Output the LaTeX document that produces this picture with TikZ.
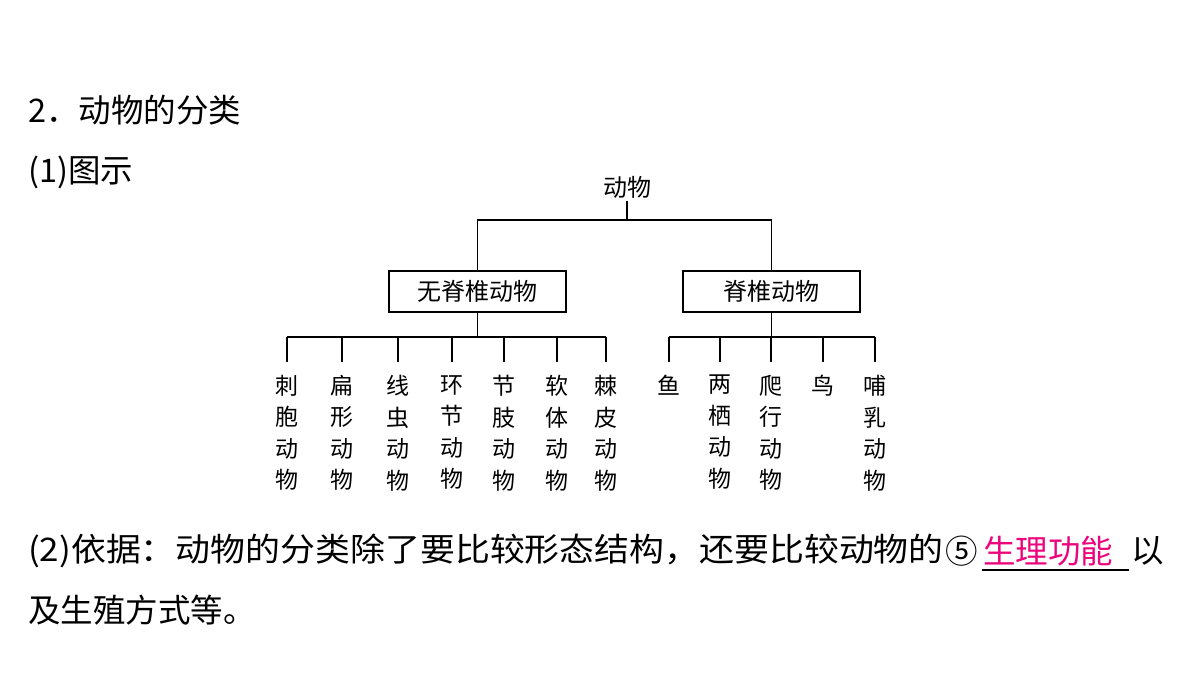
\documentclass[tikz,border=0pt]{standalone}
\usepackage{fontspec}
\setmainfont{Noto Sans CJK SC}
\begin{document}
\begin{tikzpicture}[x=1pt,y=1pt,
  ln/.style={line width=1.6pt,black},
  bx/.style={draw,line width=1.6pt,minimum width=177pt,minimum height=41pt,inner sep=0pt,font=\fontsize{24}{24}\selectfont},
  big/.style={font=\fontsize{32.5}{32.5}\selectfont,anchor=west,inner sep=0pt},
  col/.style={font=\fontsize{23}{31.5}\selectfont,align=center,anchor=north,inner sep=0pt,text width=26pt}]
\useasboundingbox (0,0) rectangle (1200,-675);
\node[big] (t1) at (28,-110) {2．动物的分类};
\node[big] (t2) at (28,-172) {(1)图示};
\node[font=\fontsize{24}{24}\selectfont,inner sep=0pt] (root) at (627,-187) {动物};
\node[bx] (inv) at (477.5,-291.5) {无脊椎动物};
\node[bx] (ver) at (771.5,-291.5) {脊椎动物};
\coordinate (r1) at (627,-220);
\draw[ln] (627,-201) -- (r1);
\draw[ln] (inv.north) |- (r1) -| (ver.north);
% left
\coordinate (lb) at (477.5,-337);
\draw[ln] (inv.south) -- (lb);
\draw[ln] (287,-337) -- (606,-337);
\foreach \x/\t [count=\i] in {287/刺\\胞\\动\\物,342/扁\\形\\动\\物,398/线\\虫\\动\\物,452/环\\节\\动\\物,504/节\\肢\\动\\物,557/软\\体\\动\\物,606/棘\\皮\\动\\物}{
  \coordinate (la\i) at (\x,-337);
  \node[col] (lc\i) at (\x,-375) {\t};
  \draw[ln] (la\i) -- (\x,-362);
}
% right
\coordinate (rb) at (771.5,-337);
\draw[ln] (ver.south) -- (rb);
\draw[ln] (669,-337) -- (875,-337);
\foreach \x/\t [count=\i] in {669/鱼,720/两\\栖\\动\\物,771/爬\\行\\动\\物,823/鸟,875/哺\\乳\\动\\物}{
  \coordinate (ra\i) at (\x,-337);
  \node[col] (rc\i) at (\x,-375) {\t};
  \draw[ln] (ra\i) -- (\x,-362);
}
\node[big] (p1) at (28,-551) {\scalebox{1.074}[1]{(2)依据：动物的分类除了要比较形态结构，还要比较动物的}};
\node[big] (c5) at (945,-551) {⑤};
\node[big,text=magenta!85!red] (f) at (983,-551) {生理功能};
\node[big] (y) at (1131,-551) {以};
\draw[line width=1.3pt] (982,-570) -- (1129,-570);
\node[big] (p2) at (28,-610) {及生殖方式等。};
\end{tikzpicture}
\end{document}
